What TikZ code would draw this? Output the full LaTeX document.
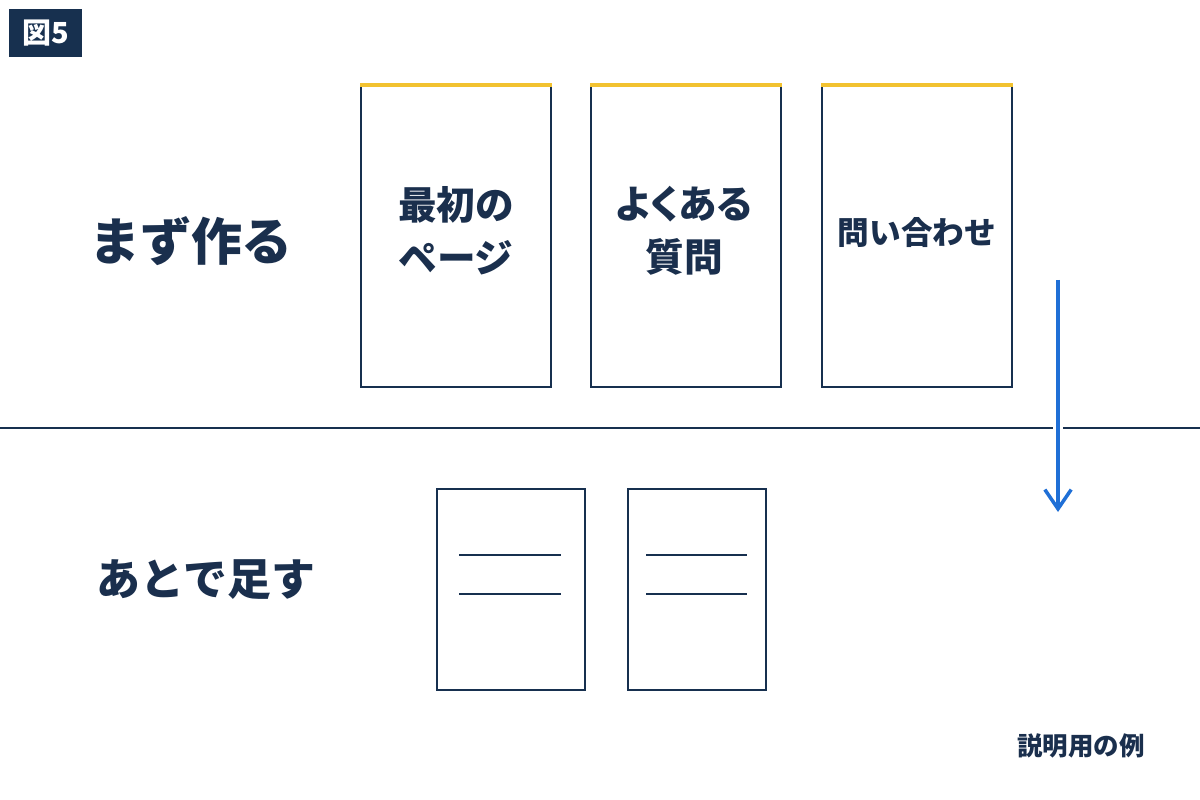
\documentclass[tikz,border=0pt]{standalone}
\usepackage{fontspec}
\setmainfont{Noto Sans CJK JP}
\newfontfamily\paltjp{Noto Sans CJK JP}[RawFeature=+palt]
\usepackage{tikz}
\usetikzlibrary{arrows.meta}
\definecolor{navy}{HTML}{17304F}
\definecolor{ink}{HTML}{1A2F4D}
\definecolor{gold}{HTML}{F2C230}
\definecolor{arrowblue}{HTML}{1F6FD6}
\tikzstyle{page}=[draw=navy, line width=1.1pt, fill=white, align=center,
text=ink, font=\bfseries\fontsize{22pt}{30pt}\selectfont]
\tikzstyle{bigpage} = [page, minimum width=3.8cm, minimum height=6.02cm]
\tikzstyle{smallpage} = [page, minimum height=4.02cm]
\tikzstyle{rowlabel} = [text=ink, font=\bfseries\fontsize{25pt}{30pt}\selectfont]

\begin{document}
\begin{tikzpicture}
	[x=0.02cm, y=-0.02cm]
	\useasboundingbox[fill=white] (0,0) rectangle (1200,800);
	\node[fill=navy, text=white, minimum width=1.46cm, minimum height=0.96cm,
	  font=\bfseries\fontsize{16.5pt}{18pt}\selectfont] (fig) at (45.5,33) {図5};

	\node[rowlabel, font=\bfseries\fontsize{29pt}{32pt}\selectfont] (now) at (191,241) {まず作る};
	\node[rowlabel] (later) at (206,580) {あとで足す};

	\node[bigpage] (p1) at (456,236.5) {};
	\node[bigpage] (p2) at (686,236.5) {};
	\node[bigpage] (p3) at (917,236.5) {};
	\node[text=ink, align=center, font=\bfseries\fontsize{22pt}{30pt}\selectfont] (t1)
	  at (456,231) {最初の\\ページ};
	\node[text=ink, align=center, font=\bfseries\paltjp\fontsize{22pt}{30pt}\selectfont] (t2)
	  at (684,231) {よくある\\質問};
	\node[text=ink, font=\bfseries\fontsize{18pt}{22pt}\selectfont] (t3) at (917,233) {問い合わせ};
	\foreach \p in {p1,p2,p3}
	  \draw[gold, line width=1.8pt] (\p.north west) -- (\p.north east);

	\draw[navy, line width=1pt] (0,428) -- (1200,428);

	\node[smallpage, minimum width=2.96cm] (a1) at (511,589.5) {};
	\node[smallpage, minimum width=2.76cm] (a2) at (697,589.5) {};
	% lines on the blank pages
	\foreach \y in {555,594} {
	  \draw[navy, line width=0.8pt] (459,\y) -- (561,\y);
	  \draw[navy, line width=0.8pt] (646,\y) -- (747,\y);
	}

	\coordinate (top) at (1058,280);
	\coordinate (bottom) at (1058,512);
	\draw[arrowblue, line width=2pt, -{Straight Barb[length=11pt, width=15pt]},
	  preaction={draw=white, line width=5.5pt}] (top) -- (bottom);

	\node[text=ink, font=\bfseries\fontsize{14.5pt}{16pt}\selectfont] (note) at (1081,746) {説明用の例};
\end{tikzpicture}
\end{document}
